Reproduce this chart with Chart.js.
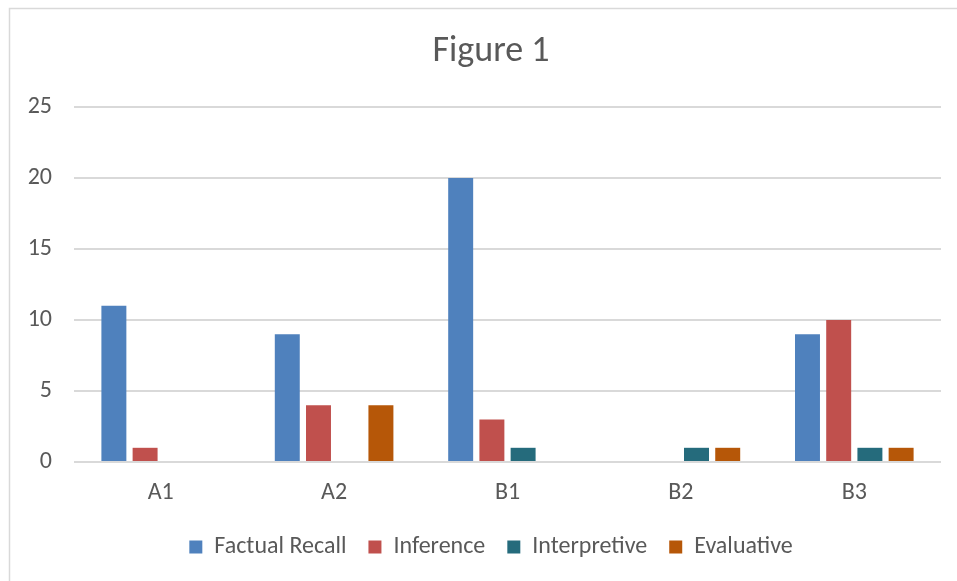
<!DOCTYPE html>
<html>
<head>
<meta charset="utf-8">
<script src="https://cdn.jsdelivr.net/npm/chart.js@4.4.1/dist/chart.umd.min.js"></script>
<style>
  html, body { margin: 0; padding: 0; background: #ffffff; overflow: hidden; }
  #wrap { position: relative; width: 957px; height: 581px; overflow: hidden; }
  canvas { display: block; }
</style>
</head>
<body>
<div id="wrap"><canvas id="chart" width="982" height="581"></canvas></div>
<script>
// Question counts per passage, by question type
const categories = ['A1', 'A2', 'B1', 'B2', 'B3'];
const factualRecall = [11, 9, 20, 0, 9];
const inference = [1, 4, 3, 0, 10];
const interpretive = [0, 0, 1, 1, 1];
const evaluative = [0, 4, 0, 1, 1];
const yTicks = [0, 5, 10, 15, 20, 25];

const FONT = 'Carlito, Calibri, Lato, sans-serif';
const TEXT = '#595959';
const GRID = '#d9d9d9';

// White sheet with the thin grey frame of the chart object
const frame = {
  id: 'frame',
  beforeDraw(chart) {
    const c = chart.ctx;
    c.save();
    c.fillStyle = '#ffffff';
    c.fillRect(0, 0, chart.width, chart.height);
    c.strokeStyle = GRID;
    c.lineWidth = 1.5;
    c.strokeRect(9.5, 8.5, chart.width + 40, chart.height + 40);
    c.restore();
  }
};

function series(label, data, color) {
  return {
    label, data,
    backgroundColor: color,
    borderWidth: 0,
    categoryPercentage: 0.72,
    barPercentage: 0.8
  };
}

new Chart(document.getElementById('chart'), {
  type: 'bar',
  data: {
    labels: categories,
    datasets: [
      series('Factual Recall', factualRecall, '#4f81bd'),
      series('Inference', inference, '#c0504d'),
      series('Interpretive', interpretive, '#256b7c'),
      series('Evaluative', evaluative, '#b65708')
    ]
  },
  options: {
    responsive: false,
    animation: false,
    devicePixelRatio: 1,
    layout: { padding: { left: 0, right: 0, top: 0, bottom: 12 } },
    plugins: {
      title: {
        display: true,
        text: 'Figure 1',
        color: TEXT,
        font: { family: FONT, size: 36, weight: 'normal' },
        padding: { top: 30.4, bottom: 33.4 }
      },
      legend: {
        position: 'bottom',
        labels: {
          color: TEXT,
          font: { family: FONT, size: 24 },
          boxWidth: 13,
          boxHeight: 13,
          padding: 22
        }
      },
      tooltip: { enabled: false }
    },
    scales: {
      x: {
        grid: { display: false, drawTicks: false },
        border: { display: false },
        ticks: { color: TEXT, font: { family: FONT, size: 24 }, padding: 16.6 },
        afterFit(scale) { scale.height = 51; }
      },
      y: {
        min: 0,
        max: 25,
        afterBuildTicks(scale) { scale.ticks = yTicks.map(v => ({ value: v })); },
        grid: { color: GRID, lineWidth: 2, drawTicks: false },
        border: { display: false },
        ticks: { color: TEXT, font: { family: FONT, size: 24 }, padding: 22 },
        afterFit(scale) { scale.width = 74; }
      },
      // empty right-hand margin of the plot area
      yRight: {
        position: 'right',
        grid: { display: false, drawTicks: false },
        border: { display: false },
        ticks: { display: false },
        afterFit(scale) { scale.width = 41; }
      }
    }
  },
  plugins: [frame]
});
</script>
</body>
</html>
